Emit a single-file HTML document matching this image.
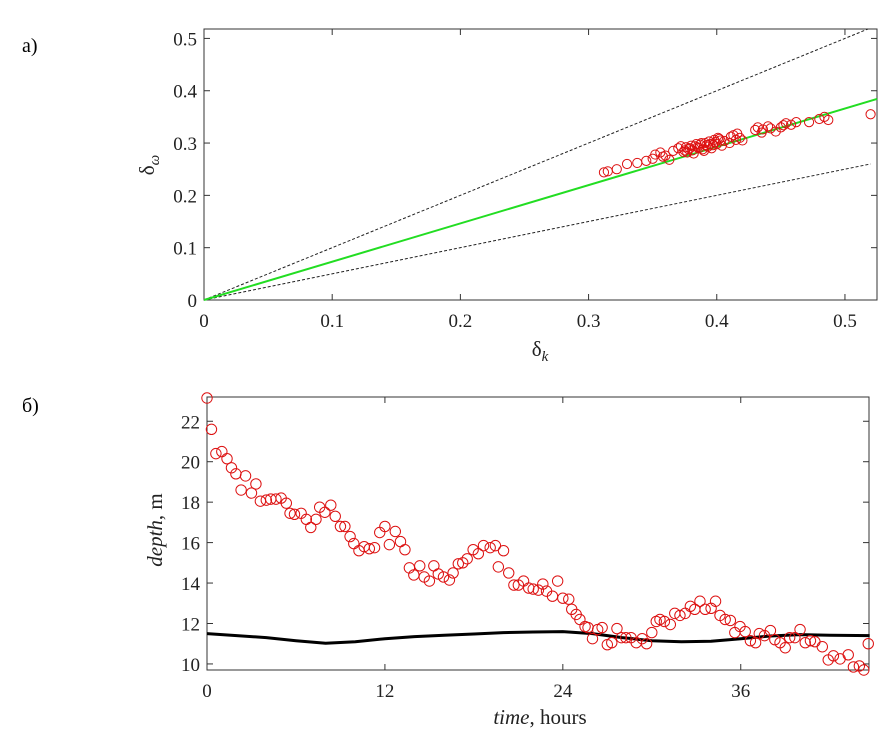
<!DOCTYPE html>
<html><head><meta charset="utf-8"><style>
html,body{margin:0;padding:0;background:#fff;}
svg{display:block;font-family:"Liberation Serif",serif;}
</style></head><body>
<svg id="chart" width="893" height="732" viewBox="0 0 893 732" xmlns="http://www.w3.org/2000/svg">
<text x="22" y="52" font-size="20">а)</text>
<text x="22" y="412" font-size="20">б)</text>
<g id="top"></g>
<g id="bot"></g>
</svg>
<script>
// ---- Panel a data ----
const scatterX = [0.312,0.315,0.322,0.33,0.338,0.345,0.35,0.352,0.356,0.358,0.36,0.363,0.366,0.37,0.372,0.374,0.376,0.378,0.38,0.382,0.384,0.386,0.388,0.39,0.392,0.394,0.396,0.398,0.4,0.402,0.404,0.406,0.41,0.413,0.416,0.418,0.42,0.43,0.432,0.435,0.44,0.442,0.446,0.45,0.454,0.458,0.462,0.472,0.48,0.484,0.487,0.52,0.375,0.379,0.383,0.387,0.391,0.395,0.399,0.403,0.377,0.381,0.385,0.389,0.393,0.397,0.401,0.411,0.415,0.436,0.452];
const scatterY = [0.244,0.246,0.25,0.26,0.262,0.266,0.27,0.278,0.282,0.274,0.276,0.268,0.285,0.29,0.294,0.283,0.292,0.288,0.295,0.28,0.298,0.29,0.3,0.285,0.296,0.303,0.29,0.306,0.298,0.308,0.295,0.304,0.3,0.315,0.318,0.31,0.305,0.325,0.33,0.32,0.332,0.328,0.322,0.33,0.338,0.335,0.34,0.34,0.346,0.35,0.344,0.355,0.286,0.29,0.294,0.297,0.3,0.298,0.302,0.305,0.282,0.286,0.292,0.288,0.293,0.296,0.31,0.312,0.306,0.326,0.334];
const fitSlope = 0.732, upperSlope = 1.0, lowerSlope = 0.5;
const topXTicks = [0,0.1,0.2,0.3,0.4,0.5];
const topYTicks = [0,0.1,0.2,0.3,0.4,0.5];
const topXTickLabels = ["0","0.1","0.2","0.3","0.4","0.5"];
const topYTickLabels = ["0","0.1","0.2","0.3","0.4","0.5"];
// ---- Panel b data ----
const obsHours = [0,0.3,0.6,1.0,1.35,1.65,1.95,2.3,2.6,3.0,3.3,3.6,4.0,4.3,4.65,5.0,5.35,5.6,5.9,6.35,6.7,7.0,7.35,7.6,7.95,8.35,8.65,9.0,9.3,9.65,9.9,10.25,10.6,10.95,11.3,11.65,12.0,12.3,12.7,13.05,13.35,13.65,13.95,14.35,14.65,15.0,15.3,15.6,15.95,16.35,16.6,16.95,17.25,17.55,17.95,18.3,18.65,19.1,19.45,19.65,20.0,20.35,20.7,21.0,21.35,21.7,22.0,22.35,22.65,22.9,23.3,23.65,24.0,24.4,24.6,24.9,25.15,25.5,25.7,26.0,26.35,26.65,27.0,27.3,27.65,27.95,28.25,28.6,28.95,29.35,29.65,30.0,30.3,30.55,30.85,31.25,31.55,31.9,32.25,32.6,32.9,33.25,33.6,34.0,34.3,34.6,34.95,35.3,35.6,35.95,36.3,36.65,37.0,37.25,37.6,38.0,38.3,38.65,39.0,39.3,39.65,40.0,40.35,40.7,41.0,41.5,41.9,42.25,42.7,43.25,43.6,44.0,44.3,44.6];
const obsDepth = [23.15,21.6,20.4,20.5,20.15,19.7,19.4,18.6,19.3,18.45,18.9,18.05,18.1,18.15,18.15,18.2,17.95,17.45,17.4,17.45,17.15,16.75,17.15,17.75,17.5,17.85,17.3,16.8,16.8,16.3,15.95,15.6,15.8,15.7,15.75,16.5,16.8,15.9,16.55,16.05,15.65,14.75,14.4,14.85,14.3,14.1,14.85,14.45,14.3,14.15,14.5,14.95,15.0,15.2,15.65,15.45,15.85,15.75,15.85,14.8,15.6,14.5,13.9,13.9,14.1,13.75,13.7,13.65,13.95,13.6,13.35,14.1,13.25,13.2,12.7,12.45,12.2,11.85,11.8,11.25,11.7,11.8,10.95,11.05,11.75,11.3,11.3,11.3,11.05,11.25,11.0,11.55,12.1,12.2,12.1,11.95,12.5,12.4,12.5,12.85,12.7,13.1,12.7,12.75,13.1,12.4,12.2,12.15,11.55,11.85,11.6,11.15,11.05,11.5,11.4,11.65,11.2,11.05,10.8,11.3,11.3,11.7,11.05,11.15,11.1,10.85,10.2,10.4,10.25,10.45,9.85,9.9,9.7,11.0];
const modelHours = [0,2,4,6,8,10,12,14,16,18,20,22,24,26,28,30,32,34,36,38,40,42,44.7];
const modelDepth = [11.5,11.4,11.3,11.15,11.02,11.1,11.25,11.35,11.42,11.48,11.55,11.58,11.6,11.5,11.3,11.15,11.1,11.12,11.25,11.38,11.45,11.42,11.4];
const botXTicks = [0,12,24,36];
const botXTickLabels = ["0","12","24","36"];
const botYTicks = [10,12,14,16,18,20,22];
const botYTickLabels = ["10","12","14","16","18","20","22"];

const NS = "http://www.w3.org/2000/svg";
function mk(parent, tag, attrs, text){
  const e = document.createElementNS(NS, tag);
  for (const k in attrs) e.setAttribute(k, attrs[k]);
  if (text !== undefined) e.textContent = text;
  parent.appendChild(e); return e;
}

// ---------- Panel a ----------
(function(){
  const g = document.getElementById('top');
  const L=204,R=877,T=29,B=300, xmax=0.525, ymax=0.518;
  const sx = v => L + v/xmax*(R-L);
  const sy = v => B - v/ymax*(B-T);
  const fr = mk(g,'rect',{x:L,y:T,width:R-L,height:B-T,fill:'none',stroke:'#333','stroke-width':1});
  
  
  topXTicks.forEach((v,i)=>{
    const x=sx(v);
    mk(g,'line',{x1:x,y1:B,x2:x,y2:B-6,stroke:'#333'});
    mk(g,'line',{x1:x,y1:T,x2:x,y2:T+6,stroke:'#333'});
    const t=mk(g,'text',{x:x,y:B+27,'font-size':19,'text-anchor':'middle',fill:'#222'},topXTickLabels[i]);
    
    
  });
  topYTicks.forEach((v,i)=>{
    const y=sy(v);
    mk(g,'line',{x1:L,y1:y,x2:L+6,y2:y,stroke:'#333'});
    mk(g,'line',{x1:R,y1:y,x2:R-6,y2:y,stroke:'#333'});
    const t=mk(g,'text',{x:L-7,y:y+7,'font-size':19,'text-anchor':'end',fill:'#222'},topYTickLabels[i]);
    
    
  });
  const xe1 = Math.min(xmax, ymax/upperSlope);
  const u=mk(g,'line',{x1:sx(0),y1:sy(0),x2:sx(xe1),y2:sy(xe1*upperSlope),stroke:'#222','stroke-width':1,'stroke-dasharray':'3,2'});
  
  
  const lo=mk(g,'line',{x1:sx(0),y1:sy(0),x2:sx(0.52),y2:sy(0.52*lowerSlope),stroke:'#222','stroke-width':1,'stroke-dasharray':'3,2'});
  
  
  const f=mk(g,'line',{x1:sx(0),y1:sy(0),x2:sx(xmax),y2:sy(xmax*fitSlope),stroke:'#22dd22','stroke-width':2});
  
  
  scatterX.forEach((v,i)=>{
    const c=mk(g,'circle',{cx:sx(v),cy:sy(scatterY[i]),r:4.6,fill:'none',stroke:'#dd1111','stroke-width':1});
    
    
  });
  const xl=mk(g,'text',{x:540,y:356,'font-size':21,'text-anchor':'middle',fill:'#222'});
  
  
  xl.innerHTML='δ<tspan font-size="15" dy="5" font-style="italic">k</tspan>';
  const yl=mk(g,'text',{x:0,y:0,'font-size':21,'text-anchor':'middle',fill:'#222',transform:'translate(154,165) rotate(-90)'});
  
  
  yl.innerHTML='δ<tspan font-size="15" dy="5" font-style="italic">ω</tspan>';
})();

// ---------- Panel b ----------
(function(){
  const g = document.getElementById('bot');
  const L=207,R=869,T=397,B=670, xmax=44.65, ymin=9.7, ymax=23.2;
  const sx = v => L + v/xmax*(R-L);
  const sy = v => B - (v-ymin)/(ymax-ymin)*(B-T);
  const fr = mk(g,'rect',{x:L,y:T,width:R-L,height:B-T,fill:'none',stroke:'#333','stroke-width':1});
  
  
  botXTicks.forEach((v,i)=>{
    const x=sx(v);
    mk(g,'line',{x1:x,y1:B,x2:x,y2:B-6,stroke:'#333'});
    mk(g,'line',{x1:x,y1:T,x2:x,y2:T+6,stroke:'#333'});
    const t=mk(g,'text',{x:x,y:B+27,'font-size':19,'text-anchor':'middle',fill:'#222'},botXTickLabels[i]);
    
    
  });
  botYTicks.forEach((v,i)=>{
    const y=sy(v);
    mk(g,'line',{x1:L,y1:y,x2:L+6,y2:y,stroke:'#333'});
    mk(g,'line',{x1:R,y1:y,x2:R-6,y2:y,stroke:'#333'});
    const t=mk(g,'text',{x:L-7,y:y+7,'font-size':19,'text-anchor':'end',fill:'#222'},botYTickLabels[i]);
    
    
  });
  const pts = modelHours.map((h,i)=>sx(h).toFixed(1)+','+sy(modelDepth[i]).toFixed(1)).join(' ');
  const m=mk(g,'polyline',{points:pts,fill:'none',stroke:'#000','stroke-width':3,'stroke-linejoin':'round'});
  
  
  obsHours.forEach((h,i)=>{
    const c=mk(g,'circle',{cx:sx(h),cy:sy(obsDepth[i]),r:5.2,fill:'none',stroke:'#dd1111','stroke-width':1});
    
    
  });
  const xl=mk(g,'text',{x:540,y:724,'font-size':21,'text-anchor':'middle',fill:'#222'});
  
  
  xl.innerHTML='<tspan font-style="italic">time</tspan>, hours';
  const yl=mk(g,'text',{x:0,y:0,'font-size':21,'text-anchor':'middle',fill:'#222',transform:'translate(162,530) rotate(-90)'});
  
  
  yl.innerHTML='<tspan font-style="italic">depth</tspan>, m';
})();
</script>
</body></html>
